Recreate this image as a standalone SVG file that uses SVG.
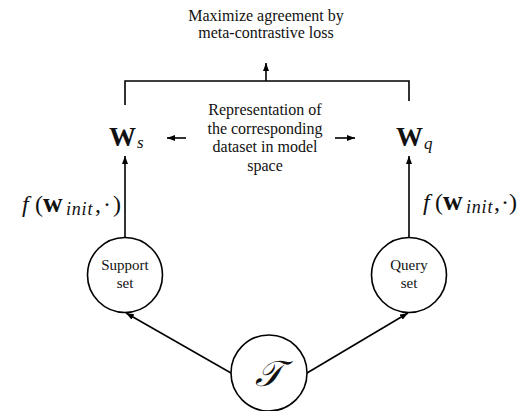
<svg xmlns="http://www.w3.org/2000/svg" width="518" height="411" viewBox="0 0 518 411">
<defs>
<style>
.t{font-family:"Liberation Serif","Times New Roman",serif;fill:#111;}
.lbl{font-size:16px;text-anchor:middle;}
.node{fill:#fff;stroke:#000;stroke-width:1.6;}
.edge{fill:none;stroke:#000;stroke-width:1.6;}
.W{font-size:27px;font-weight:bold;}
.sub{font-size:17px;font-style:italic;}
.fx{font-size:24px;}
.bw{font-size:27px;font-weight:bold;}
.si{font-size:18px;font-style:italic;letter-spacing:0.8px;}
</style>
<marker id="ah" viewBox="0 0 8 6" refX="8" refY="3" markerWidth="8" markerHeight="6" markerUnits="userSpaceOnUse" orient="auto">
<path d="M0,0 L8,3 L0,6 Z" fill="#000"/>
</marker>
</defs>
<rect width="518" height="411" fill="#fff"/>
<g id="connectors">
<path class="edge" d="M125,105 V81 H409 V101"/>
<line class="edge" x1="266" y1="81" x2="266" y2="63" marker-end="url(#ah)"/>
<line class="edge" x1="125" y1="237" x2="125" y2="156" marker-end="url(#ah)"/>
<line class="edge" x1="409" y1="237" x2="409" y2="156" marker-end="url(#ah)"/>
<line class="edge" x1="231" y1="373" x2="126" y2="313" marker-end="url(#ah)"/>
<line class="edge" x1="307" y1="373" x2="408" y2="313" marker-end="url(#ah)"/>
<line class="edge" x1="186" y1="138" x2="167" y2="138" marker-end="url(#ah)"/>
<line class="edge" x1="335" y1="138" x2="355" y2="138" marker-end="url(#ah)"/>
</g>
<g id="title">
<text class="t lbl" x="266" y="21">Maximize agreement by</text>
<text class="t lbl" x="266" y="38">meta-contrastive loss</text>
</g>
<g id="desc">
<text class="t lbl" x="265" y="115">Representation of</text>
<text class="t lbl" x="265" y="133.5">the corresponding</text>
<text class="t lbl" x="265" y="152">dataset in model</text>
<text class="t lbl" x="265" y="170.5">space</text>
</g>
<g id="Ws">
<text class="t" x="109" y="146"><tspan class="W">W</tspan><tspan class="sub" dx="1" dy="2">s</tspan></text>
</g>
<g id="Wq">
<text class="t" x="396" y="146"><tspan class="W">W</tspan><tspan class="sub" dx="1" dy="3">q</tspan></text>
</g>
<g id="f-left">
<text class="t fx" y="212"><tspan x="22" font-style="italic">f</tspan><tspan x="35">(</tspan><tspan x="43" class="bw">w</tspan><tspan x="66" dy="3" class="si">init</tspan><tspan x="95" dy="-3">,</tspan><tspan x="103">·</tspan><tspan x="113">)</tspan></text>
</g>
<g id="f-right">
<text class="t fx" y="210"><tspan x="423" font-style="italic">f</tspan><tspan x="435">(</tspan><tspan x="443" class="bw">w</tspan><tspan x="466" dy="3" class="si">init</tspan><tspan x="494" dy="-3">,</tspan><tspan x="501">·</tspan><tspan x="509">)</tspan></text>
</g>
<g id="support">
<circle class="node" cx="125" cy="275" r="37.5"/>
<text class="t" x="125" y="270" font-size="15" text-anchor="middle">Support</text>
<text class="t" x="125" y="288" font-size="15" text-anchor="middle">set</text>
</g>
<g id="query">
<circle class="node" cx="409" cy="275" r="37.5"/>
<text class="t" x="409" y="270" font-size="15" text-anchor="middle">Query</text>
<text class="t" x="409" y="288" font-size="15" text-anchor="middle">set</text>
</g>
<g id="task">
<circle class="node" cx="269" cy="373" r="38"/>
<text class="t" x="269" y="386" font-size="36" font-style="italic" text-anchor="middle">𝒯</text>
</g>
</svg>
